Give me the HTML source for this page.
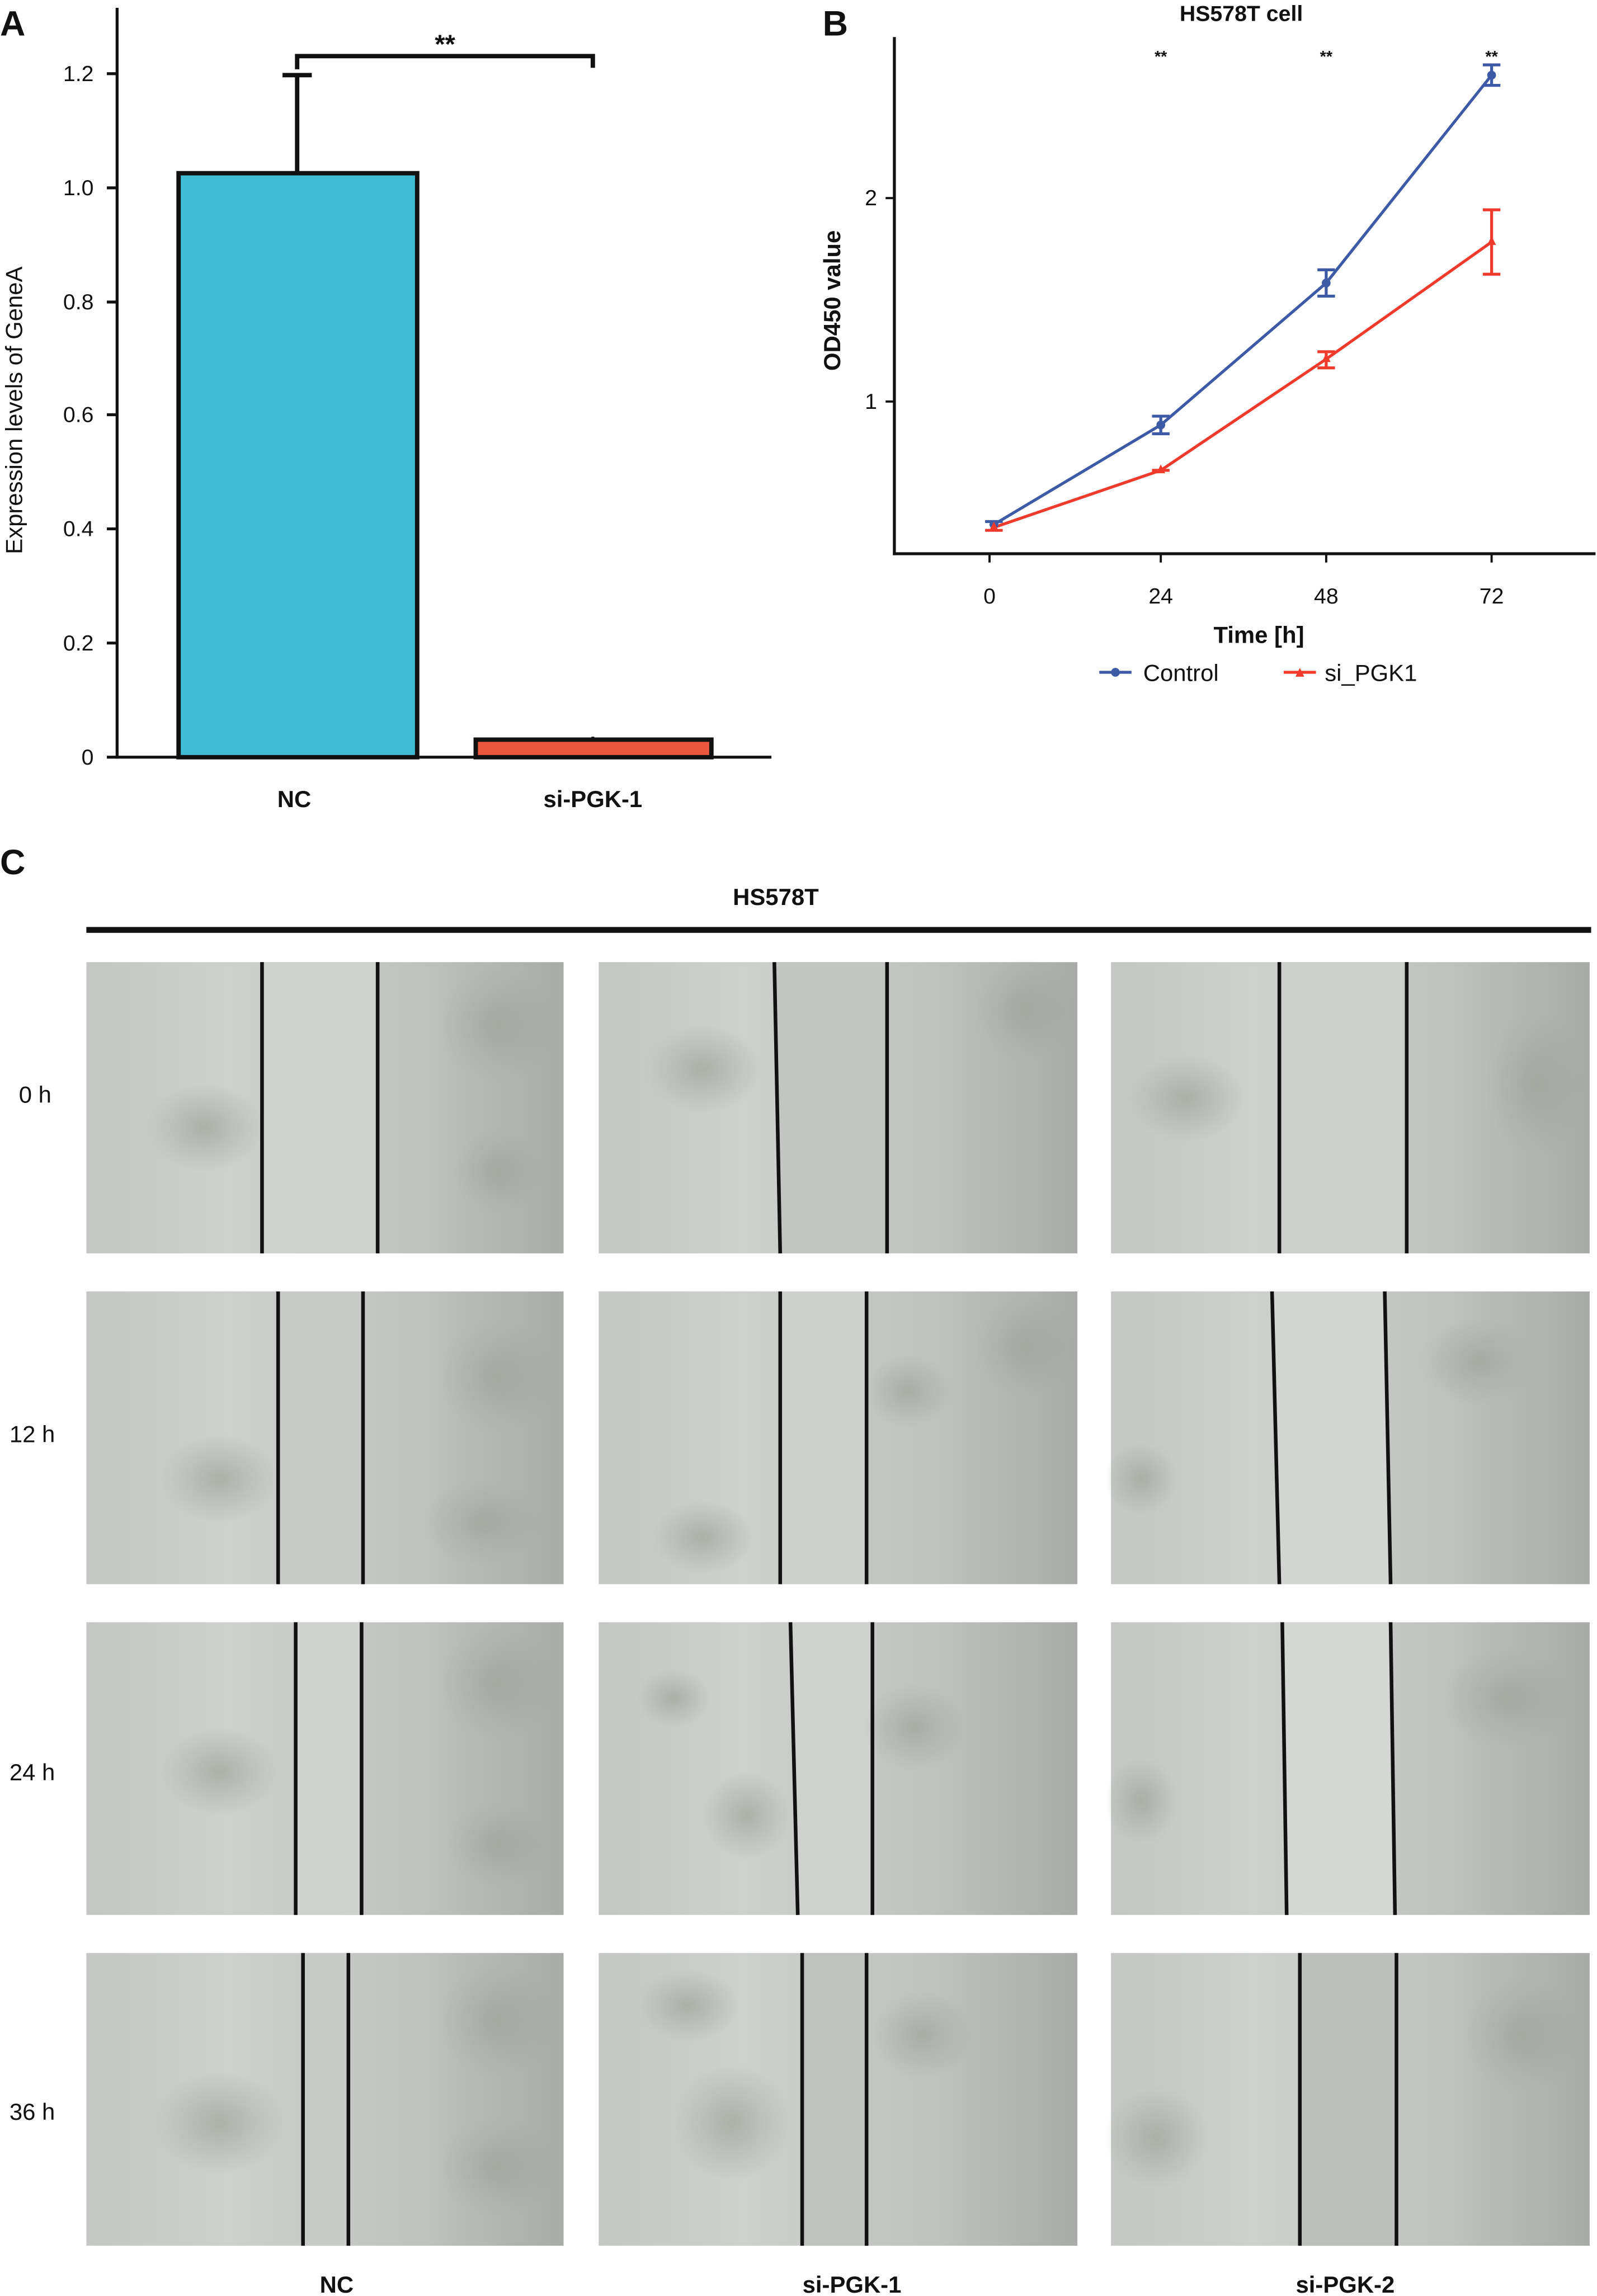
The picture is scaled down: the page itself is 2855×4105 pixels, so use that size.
<!DOCTYPE html>
<html><head><meta charset="utf-8"><style>
html,body{margin:0;padding:0;background:#fff;}
svg{display:block;}
text{font-family:"Liberation Sans",sans-serif;fill:#111;}
</style></head><body>
<svg width="2855" height="4105" viewBox="0 0 1091 1568" xmlns="http://www.w3.org/2000/svg">
<defs>
<linearGradient id="cell" x1="0" x2="1" y1="0" y2="0">
<stop offset="0" stop-color="#c4c7c4"/><stop offset="0.3" stop-color="#cdd0cd"/><stop offset="0.7" stop-color="#c0c2c0"/><stop offset="1" stop-color="#a9aba9"/>
</linearGradient>
<radialGradient id="blob"><stop offset="0" stop-color="#9fa39a" stop-opacity="0.7"/><stop offset="1" stop-color="#9fa39a" stop-opacity="0"/></radialGradient>
</defs>
<rect width="1091" height="1568" fill="#fff"/>
<!-- Panel A -->
<text x="0" y="24" font-size="24" font-weight="bold">A</text>
<line x1="80" y1="5" x2="80" y2="518" stroke="#111" stroke-width="2"/>
<line x1="79" y1="517" x2="527" y2="517" stroke="#111" stroke-width="2"/>
<g font-size="15" text-anchor="end">
<text x="64" y="522">0</text><text x="64" y="444">0.2</text><text x="64" y="366">0.4</text>
<text x="64" y="288">0.6</text><text x="64" y="211">0.8</text><text x="64" y="133">1.0</text><text x="64" y="55">1.2</text>
</g>
<g stroke="#111" stroke-width="2">
<line x1="73" y1="517" x2="80" y2="517"/><line x1="73" y1="439" x2="80" y2="439"/><line x1="73" y1="361" x2="80" y2="361"/>
<line x1="73" y1="283" x2="80" y2="283"/><line x1="73" y1="206" x2="80" y2="206"/><line x1="73" y1="128" x2="80" y2="128"/><line x1="73" y1="50" x2="80" y2="50"/>
</g>
<text transform="translate(15,280) rotate(-90)" font-size="16" text-anchor="middle">Expression levels of GeneA</text>
<line x1="203" y1="118" x2="203" y2="51" stroke="#111" stroke-width="3"/>
<line x1="193" y1="51" x2="213" y2="51" stroke="#111" stroke-width="3"/>
<rect x="122" y="118" width="163" height="399" fill="#40bcd4" stroke="#111" stroke-width="3"/>
<line x1="405" y1="505" x2="405" y2="503" stroke="#111" stroke-width="2"/>
<rect x="325" y="505" width="161" height="12" fill="#e9573f" stroke="#111" stroke-width="3"/>
<polyline points="203,47 203,38 405,38 405,46" fill="none" stroke="#111" stroke-width="3"/>
<text x="304" y="36" font-size="18" font-weight="bold" text-anchor="middle">**</text>
<text x="201" y="551" font-size="16" font-weight="bold" text-anchor="middle">NC</text>
<text x="405" y="551" font-size="16" font-weight="bold" text-anchor="middle">si-PGK-1</text>
<!-- Panel B -->
<text x="562" y="24" font-size="24" font-weight="bold">B</text>
<text x="848" y="14" font-size="15" font-weight="bold" text-anchor="middle">HS578T cell</text>
<line x1="611" y1="25" x2="611" y2="379" stroke="#111" stroke-width="2"/>
<line x1="610" y1="378" x2="1090" y2="378" stroke="#111" stroke-width="2"/>
<g stroke="#111" stroke-width="1.5">
<line x1="605" y1="135" x2="611" y2="135"/><line x1="605" y1="274" x2="611" y2="274"/>
<line x1="676" y1="378" x2="676" y2="384"/><line x1="793" y1="378" x2="793" y2="384"/><line x1="906" y1="378" x2="906" y2="384"/><line x1="1019" y1="378" x2="1019" y2="384"/>
</g>
<g font-size="15" text-anchor="middle">
<text x="595" y="140">2</text><text x="595" y="279">1</text>
<text x="676" y="412">0</text><text x="793" y="412">24</text><text x="906" y="412">48</text><text x="1019" y="412">72</text>
</g>
<text transform="translate(574,205) rotate(-90)" font-size="16" font-weight="bold" text-anchor="middle">OD450 value</text>
<text x="860" y="439" font-size="16" font-weight="bold" text-anchor="middle">Time [h]</text>
<g font-size="11" font-weight="bold" text-anchor="middle"><text x="793" y="42">**</text><text x="906" y="42">**</text><text x="1019" y="42">**</text></g>
<polyline points="679,358 793,290 906,193 1019,51" fill="none" stroke="#3d5aa6" stroke-width="2"/>
<polyline points="679,360 793,321 906,245 1019,165" fill="none" stroke="#f03a2c" stroke-width="2"/>
<g stroke="#3d5aa6" stroke-width="2">
<line x1="1019" y1="44" x2="1019" y2="58"/><line x1="1013" y1="44" x2="1025" y2="44"/><line x1="1013" y1="58" x2="1025" y2="58"/>
<line x1="906" y1="184" x2="906" y2="202"/><line x1="900" y1="184" x2="912" y2="184"/><line x1="900" y1="202" x2="912" y2="202"/>
<line x1="793" y1="284" x2="793" y2="296"/><line x1="787" y1="284" x2="799" y2="284"/><line x1="787" y1="296" x2="799" y2="296"/>
<line x1="673" y1="356" x2="685" y2="356"/>
</g>
<g stroke="#f03a2c" stroke-width="2">
<line x1="1019" y1="143" x2="1019" y2="187"/><line x1="1013" y1="143" x2="1025" y2="143"/><line x1="1013" y1="187" x2="1025" y2="187"/>
<line x1="906" y1="240" x2="906" y2="251"/><line x1="900" y1="240" x2="912" y2="240"/><line x1="900" y1="251" x2="912" y2="251"/>
<line x1="787" y1="321" x2="799" y2="321"/><line x1="673" y1="362" x2="685" y2="362"/>
</g>
<g fill="#3d5aa6"><circle cx="679" cy="358" r="3"/><circle cx="793" cy="290" r="3"/><circle cx="906" cy="193" r="3"/><circle cx="1019" cy="51" r="3"/></g>
<g fill="#f03a2c"><polygon points="679,356 682,362 676,362"/><polygon points="793,317 796,323 790,323"/><polygon points="906,241 909,247 903,247"/><polygon points="1019,161 1022,167 1016,167"/></g>
<line x1="751" y1="459" x2="773" y2="459" stroke="#3d5aa6" stroke-width="2"/><circle cx="762" cy="459" r="3" fill="#3d5aa6"/>
<text x="781" y="465" font-size="16">Control</text>
<line x1="877" y1="459" x2="899" y2="459" stroke="#f03a2c" stroke-width="2"/><polygon points="888,456 891,462 885,462" fill="#f03a2c"/>
<text x="905" y="465" font-size="16">si_PGK1</text>
<!-- Panel C -->
<text x="0" y="597" font-size="24" font-weight="bold">C</text>
<text x="530" y="618" font-size="16" font-weight="bold" text-anchor="middle">HS578T</text>
<rect x="59" y="633" width="1028" height="4" fill="#111"/>
<g id="cells">
<!-- row 0 -->
<g>
<rect x="59" y="657" width="326" height="199" fill="url(#cell)"/>
<rect x="179" y="657" width="79" height="199" fill="#cfd1cf"/>
<ellipse cx="140" cy="770" rx="40" ry="30" fill="url(#blob)"/><ellipse cx="340" cy="700" rx="40" ry="40" fill="url(#blob)"/><ellipse cx="340" cy="800" rx="30" ry="30" fill="url(#blob)"/>
<line x1="179" y1="657" x2="179" y2="856" stroke="#111" stroke-width="2.5"/><line x1="258" y1="657" x2="258" y2="856" stroke="#111" stroke-width="2.5"/>
<rect x="409" y="657" width="327" height="199" fill="url(#cell)"/>
<polygon points="529,657 606,657 606,856 533,856" fill="#c3c5c3"/>
<ellipse cx="480" cy="730" rx="40" ry="30" fill="url(#blob)"/><ellipse cx="700" cy="690" rx="35" ry="35" fill="url(#blob)"/>
<line x1="529" y1="657" x2="533" y2="856" stroke="#111" stroke-width="2.5"/><line x1="606" y1="657" x2="606" y2="856" stroke="#111" stroke-width="2.5"/>
<rect x="759" y="657" width="327" height="199" fill="url(#cell)"/>
<rect x="874" y="657" width="87" height="199" fill="#cdcfcd"/>
<ellipse cx="810" cy="750" rx="40" ry="30" fill="url(#blob)"/><ellipse cx="1050" cy="740" rx="35" ry="50" fill="url(#blob)"/>
<line x1="874" y1="657" x2="874" y2="856" stroke="#111" stroke-width="2.5"/><line x1="961" y1="657" x2="961" y2="856" stroke="#111" stroke-width="2.5"/>
</g>
<!-- row 1 -->
<g>
<rect x="59" y="882" width="326" height="200" fill="url(#cell)"/>
<rect x="190" y="882" width="58" height="200" fill="#c9cbc9"/>
<ellipse cx="150" cy="1010" rx="40" ry="30" fill="url(#blob)"/><ellipse cx="340" cy="940" rx="40" ry="40" fill="url(#blob)"/><ellipse cx="330" cy="1040" rx="40" ry="30" fill="url(#blob)"/>
<line x1="190" y1="882" x2="190" y2="1082" stroke="#111" stroke-width="2.5"/><line x1="248" y1="882" x2="248" y2="1082" stroke="#111" stroke-width="2.5"/>
<rect x="409" y="882" width="327" height="200" fill="url(#cell)"/>
<rect x="533" y="882" width="59" height="200" fill="#cdcfcd"/>
<ellipse cx="620" cy="950" rx="30" ry="25" fill="url(#blob)"/><ellipse cx="700" cy="920" rx="35" ry="35" fill="url(#blob)"/><ellipse cx="480" cy="1050" rx="35" ry="25" fill="url(#blob)"/>
<line x1="533" y1="882" x2="533" y2="1082" stroke="#111" stroke-width="2.5"/><line x1="592" y1="882" x2="592" y2="1082" stroke="#111" stroke-width="2.5"/>
<rect x="759" y="882" width="327" height="200" fill="url(#cell)"/>
<polygon points="869,882 946,882 950,1082 874,1082" fill="#d3d5d3"/>
<ellipse cx="1010" cy="930" rx="40" ry="30" fill="url(#blob)"/><ellipse cx="780" cy="1010" rx="25" ry="25" fill="url(#blob)"/>
<line x1="869" y1="882" x2="874" y2="1082" stroke="#111" stroke-width="2.5"/><line x1="946" y1="882" x2="950" y2="1082" stroke="#111" stroke-width="2.5"/>
</g>
<!-- row 2 -->
<g>
<rect x="59" y="1108" width="326" height="200" fill="url(#cell)"/>
<rect x="202" y="1108" width="45" height="200" fill="#d0d2d0"/>
<ellipse cx="150" cy="1210" rx="40" ry="30" fill="url(#blob)"/><ellipse cx="340" cy="1150" rx="40" ry="40" fill="url(#blob)"/><ellipse cx="340" cy="1260" rx="35" ry="30" fill="url(#blob)"/>
<line x1="202" y1="1108" x2="202" y2="1308" stroke="#111" stroke-width="2.5"/><line x1="247" y1="1108" x2="247" y2="1308" stroke="#111" stroke-width="2.5"/>
<rect x="409" y="1108" width="327" height="200" fill="url(#cell)"/>
<polygon points="540,1108 596,1108 596,1308 545,1308" fill="#cfd1cf"/>
<ellipse cx="625" cy="1180" rx="35" ry="30" fill="url(#blob)"/><ellipse cx="510" cy="1240" rx="30" ry="30" fill="url(#blob)"/><ellipse cx="460" cy="1160" rx="25" ry="20" fill="url(#blob)"/>
<line x1="540" y1="1108" x2="545" y2="1308" stroke="#111" stroke-width="2.5"/><line x1="596" y1="1108" x2="596" y2="1308" stroke="#111" stroke-width="2.5"/>
<rect x="759" y="1108" width="327" height="200" fill="url(#cell)"/>
<polygon points="876,1108 950,1108 953,1308 879,1308" fill="#d5d7d5"/>
<ellipse cx="1030" cy="1160" rx="45" ry="35" fill="url(#blob)"/><ellipse cx="780" cy="1230" rx="25" ry="30" fill="url(#blob)"/>
<line x1="876" y1="1108" x2="879" y2="1308" stroke="#111" stroke-width="2.5"/><line x1="950" y1="1108" x2="953" y2="1308" stroke="#111" stroke-width="2.5"/>
</g>
<!-- row 3 -->
<g>
<rect x="59" y="1334" width="326" height="200" fill="url(#cell)"/>
<rect x="207" y="1334" width="31" height="200" fill="#c9cbc9"/>
<ellipse cx="150" cy="1450" rx="45" ry="35" fill="url(#blob)"/><ellipse cx="340" cy="1380" rx="40" ry="40" fill="url(#blob)"/><ellipse cx="340" cy="1480" rx="40" ry="35" fill="url(#blob)"/>
<line x1="207" y1="1334" x2="207" y2="1534" stroke="#111" stroke-width="2.5"/><line x1="238" y1="1334" x2="238" y2="1534" stroke="#111" stroke-width="2.5"/>
<rect x="409" y="1334" width="327" height="200" fill="url(#cell)"/>
<rect x="548" y="1334" width="44" height="200" fill="#bfc1bf"/>
<ellipse cx="630" cy="1390" rx="35" ry="30" fill="url(#blob)"/><ellipse cx="500" cy="1450" rx="40" ry="40" fill="url(#blob)"/><ellipse cx="470" cy="1370" rx="35" ry="25" fill="url(#blob)"/>
<line x1="548" y1="1334" x2="548" y2="1534" stroke="#111" stroke-width="2.5"/><line x1="592" y1="1334" x2="592" y2="1534" stroke="#111" stroke-width="2.5"/>
<rect x="759" y="1334" width="327" height="200" fill="url(#cell)"/>
<rect x="888" y="1334" width="66" height="200" fill="#bcbebc"/>
<ellipse cx="1040" cy="1390" rx="40" ry="40" fill="url(#blob)"/><ellipse cx="790" cy="1460" rx="35" ry="35" fill="url(#blob)"/>
<line x1="888" y1="1334" x2="888" y2="1534" stroke="#111" stroke-width="2.5"/><line x1="954" y1="1334" x2="954" y2="1534" stroke="#111" stroke-width="2.5"/>
</g>
</g>
<g font-size="16" text-anchor="middle">
<text x="24" y="753">0 h</text><text x="22" y="985">12 h</text><text x="22" y="1216">24 h</text><text x="22" y="1448">36 h</text>
</g>
<g font-size="16" font-weight="bold" text-anchor="middle">
<text x="230" y="1566">NC</text><text x="582" y="1566">si-PGK-1</text><text x="919" y="1566">si-PGK-2</text>
</g>
</svg>
</body></html>
